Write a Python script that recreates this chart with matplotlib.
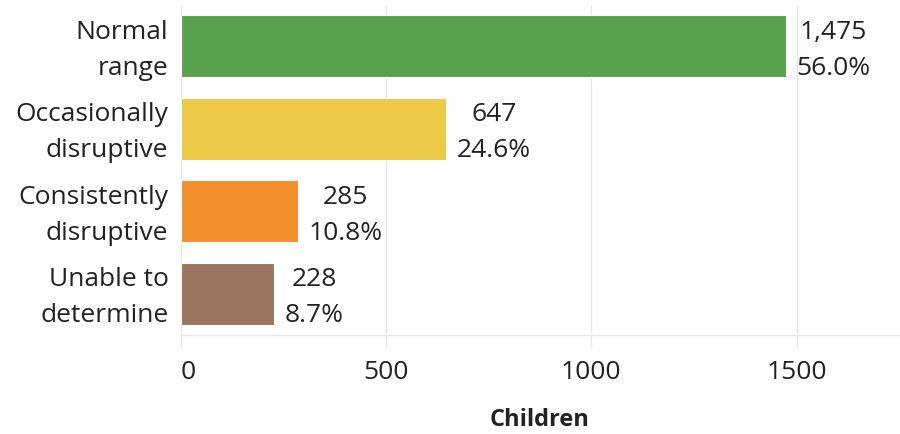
import matplotlib.pyplot as plt
import matplotlib.transforms as mtransforms

# dados do grafico
categorias = ["Normal\nrange", "Occasionally\ndisruptive", "Consistently\ndisruptive", "Unable to\ndetermine"]
criancas = [1475, 647, 285, 228]
percentuais = [56.0, 24.6, 10.8, 8.7]
cores = ["#59A14F", "#EDC948", "#F28E2B", "#9C755F"]
ticks_x = [0, 500, 1000, 1500]

plt.rcParams['font.family'] = ['Open Sans', 'DejaVu Sans']
cor_texto = "#222222"
cor_grade = "#e8e8e8"
tam = 19

fig = plt.figure(figsize=(9, 4.35), dpi=100)
ax = fig.add_axes([0.201, 0.2276, 0.798, 0.7584])

pos = list(range(len(categorias)))
ax.barh(pos, criancas, height=0.75, color=cores, edgecolor="white", linewidth=0.8, zorder=3)
ax.set_ylim(len(categorias) - 0.5, -0.5)
ax.set_xlim(0, 1750)

# deslocamento pequeno para cima (texto centralizado visualmente)
sobe = mtransforms.ScaledTranslation(0, 4 / 72, fig.dpi_scale_trans)

# rotulos no fim das barras
for i in pos:
    ax.text(criancas[i] + 25, i, f"{criancas[i]:,}\n{percentuais[i]:.1f}%",
            ha='left', va='center_baseline', multialignment='center',
            fontsize=tam, color=cor_texto, linespacing=1.58, zorder=4,
            transform=ax.transData + sobe)

ax.set_yticks(pos)
ax.set_yticklabels(categorias, fontsize=tam, color=cor_texto, linespacing=1.58)
ax.tick_params(axis='y', length=0, pad=9)
for lbl in ax.get_yticklabels():
    lbl.set_horizontalalignment('right')
    lbl.set_multialignment('right')
    lbl.set_transform(lbl.get_transform() + sobe)

ax.set_xticks(ticks_x)
ax.set_xticklabels([str(t) for t in ticks_x], fontsize=tam, color=cor_texto)
ax.get_xticklabels()[0].set_horizontalalignment('left')
ax.tick_params(axis='x', length=9, color=cor_grade, width=1, pad=8)
ax.set_xlabel("Children", fontsize=17, fontweight='bold', color=cor_texto, labelpad=17)

ax.grid(axis='x', color=cor_grade, linewidth=1, zorder=0)
for lado in ['top', 'right', 'left']:
    ax.spines[lado].set_visible(False)
ax.spines['bottom'].set_color(cor_grade)
ax.spines['bottom'].set_linewidth(1)

plt.savefig("out.png", dpi=100)
